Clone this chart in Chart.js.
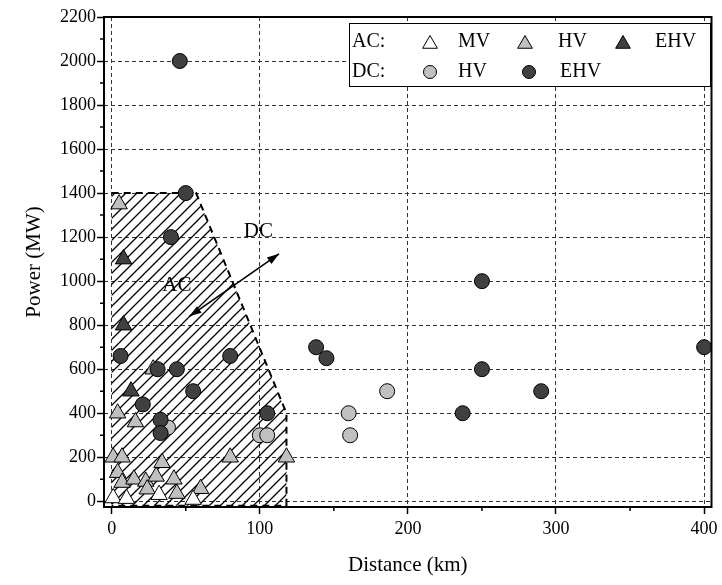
<!DOCTYPE html>
<html>
<head>
<meta charset="utf-8">
<script src="https://cdn.jsdelivr.net/npm/chart.js@4.4.1/dist/chart.umd.min.js"></script>
<style>
  html, body { margin: 0; padding: 0; background: #fff; }
  #wrap { width: 722px; height: 585px; }
</style>
</head>
<body>
<div id="wrap"><canvas id="chart"></canvas></div>
<script>
// distance (km) / power (MW)
const acMvDist = [1, 10, 32, 55];
const acMvPower = [15, 12, 30, 8];

const acHvDist = [5, 28, 4, 16, 1, 7, 34, 4, 7, 15, 23, 30, 42, 24, 44, 80, 118, 60];
const acHvPower = [1350, 600, 400, 360, 200, 200, 175, 130, 85, 100, 90, 113, 100, 55, 35, 200, 200, 57];

const acEhvDist = [8, 8, 13];
const acEhvPower = [1100, 800, 500];

const dcHvDist = [38, 100, 105, 186, 160, 161];
const dcHvPower = [335, 300, 300, 500, 400, 300];

const dcEhvDist = [46, 50, 40, 6, 31, 44, 55, 21, 33, 33, 80, 105, 138, 145, 250, 250, 290, 237, 400];
const dcEhvPower = [2000, 1400, 1200, 660, 600, 600, 500, 440, 370, 310, 660, 400, 700, 650, 1000, 600, 500, 400, 700];

// hatched AC region outline
const acZoneDist = [0, 57, 118, 118, 0, 0];
const acZonePower = [1400, 1400, 400, -20, -20, 1400];

// double arrow between the AC and DC labels
const arrowStart = [52.5, 840];
const arrowEnd = [113, 1124];
const zoneLabels = ['AC', 'DC'];
const zoneLabelDist = [44, 99];
const zoneLabelPower = [980, 1226];

const xTicks = [0, 100, 200, 300, 400];
const xMinor = [50, 150, 250, 350];
const yTicks = [0, 200, 400, 600, 800, 1000, 1200, 1400, 1600, 1800, 2000, 2200];
const yMinor = [100, 300, 500, 700, 900, 1100, 1300, 1500, 1700, 1900, 2100];

const LIGHT = '#c0c0c0';
const DARK = '#404040';
const SERIF = "'Liberation Serif', 'Times New Roman', serif";

const zip = (xs, ys) => xs.map((x, i) => ({ x, y: ys[i] }));

function hatchPattern() {
    const s = 11;
    const c = document.createElement('canvas');
    c.width = s;
    c.height = s;
    const g = c.getContext('2d');
    g.strokeStyle = '#000';
    g.lineWidth = 1.3;
    g.beginPath();
    g.moveTo(0, s);
    g.lineTo(s, 0);
    g.moveTo(-2, 2);
    g.lineTo(2, -2);
    g.moveTo(s - 2, s + 2);
    g.lineTo(s + 2, s - 2);
    g.stroke();
    return g.createPattern(c, 'repeat');
}

function triangle(ctx, x, y, r) {
    ctx.beginPath();
    ctx.moveTo(x, y - r);
    ctx.lineTo(x + 0.866 * r, y + 0.5 * r);
    ctx.lineTo(x - 0.866 * r, y + 0.5 * r);
    ctx.closePath();
}

function circle(ctx, x, y, r) {
    ctx.beginPath();
    ctx.arc(x, y, r, 0, Math.PI * 2);
}

function arrowHead(ctx, fx, fy, tx, ty) {
    const a = Math.atan2(ty - fy, tx - fx);
    const len = 12, half = 4;
    ctx.beginPath();
    ctx.moveTo(tx, ty);
    ctx.lineTo(tx - len * Math.cos(a) + half * Math.sin(a), ty - len * Math.sin(a) - half * Math.cos(a));
    ctx.lineTo(tx - len * Math.cos(a) - half * Math.sin(a), ty - len * Math.sin(a) + half * Math.cos(a));
    ctx.closePath();
    ctx.fill();
}

const decorations = {
    id: 'decorations',
    afterDraw(chart) {
        const { ctx, chartArea: area } = chart;
        const xs = chart.scales.x, ys = chart.scales.y;
        ctx.save();

        // frame
        ctx.strokeStyle = '#000';
        ctx.lineWidth = 2;
        ctx.strokeRect(area.left, area.top, area.right - area.left, area.bottom - area.top);

        // minor ticks
        ctx.lineWidth = 1.5;
        ctx.beginPath();
        for (const v of xMinor) {
            const px = xs.getPixelForValue(v);
            ctx.moveTo(px, area.bottom);
            ctx.lineTo(px, area.bottom + 4);
        }
        for (const v of yMinor) {
            const py = ys.getPixelForValue(v);
            ctx.moveTo(area.left, py);
            ctx.lineTo(area.left - 4, py);
        }
        ctx.stroke();

        // arrow
        const ax = xs.getPixelForValue(arrowStart[0]), ay = ys.getPixelForValue(arrowStart[1]);
        const bx = xs.getPixelForValue(arrowEnd[0]), by = ys.getPixelForValue(arrowEnd[1]);
        ctx.lineWidth = 1.6;
        ctx.fillStyle = '#000';
        ctx.beginPath();
        ctx.moveTo(ax, ay);
        ctx.lineTo(bx, by);
        ctx.stroke();
        arrowHead(ctx, ax, ay, bx, by);
        arrowHead(ctx, bx, by, ax, ay);

        // AC / DC labels
        ctx.font = '21px ' + SERIF;
        ctx.textAlign = 'center';
        ctx.textBaseline = 'middle';
        zoneLabels.forEach((t, i) => {
            ctx.fillText(t, xs.getPixelForValue(zoneLabelDist[i]), ys.getPixelForValue(zoneLabelPower[i]));
        });

        // legend
        ctx.fillStyle = '#fff';
        ctx.fillRect(349, 23, 361, 63);
        ctx.lineWidth = 1;
        ctx.strokeRect(349.5, 23.5, 361, 63);
        ctx.font = '20px ' + SERIF;
        ctx.textAlign = 'left';
        ctx.fillStyle = '#000';
        const r1 = 42, r2 = 72;
        ctx.fillText('AC:', 352, r1);
        ctx.fillText('MV', 458, r1);
        ctx.fillText('HV', 558, r1);
        ctx.fillText('EHV', 655, r1);
        ctx.fillText('DC:', 352, r2);
        ctx.fillText('HV', 458, r2);
        ctx.fillText('EHV', 560, r2);
        const marks = [
            [triangle, 430, r1 + 2, 8.5, '#fff'],
            [triangle, 525, r1 + 2, 8.5, LIGHT],
            [triangle, 623, r1 + 2, 8.5, DARK],
            [circle, 430, r2, 6.5, LIGHT],
            [circle, 529, r2, 6.5, DARK],
        ];
        ctx.lineWidth = 1;
        ctx.strokeStyle = '#000';
        for (const [shape, x, y, r, fill] of marks) {
            shape(ctx, x, y, r);
            ctx.fillStyle = fill;
            ctx.fill();
            ctx.stroke();
        }
        ctx.restore();
    },
};

const markerSet = (label, dist, power, style, fill, order) => ({
    label,
    data: zip(dist, power),
    pointStyle: style,
    pointRadius: style === 'triangle' ? 9.5 : 7.5,
    pointBackgroundColor: fill,
    pointBorderColor: '#000',
    pointBorderWidth: 1,
    showLine: false,
    order,
});

const axisFont = { family: SERIF, size: 18 };
const titleFont = { family: SERIF, size: 21 };

new Chart(document.getElementById('chart'), {
    type: 'scatter',
    data: {
        datasets: [
            {
                type: 'line',
                label: 'AC zone',
                data: zip(acZoneDist, acZonePower),
                showLine: true,
                pointRadius: 0,
                borderColor: '#000',
                borderWidth: 2,
                borderDash: [7, 5],
                backgroundColor: hatchPattern(),
                fill: 'shape',
                tension: 0,
                segment: {
                    borderColor: (c) => (c.p0DataIndex === 4 ? 'rgba(0,0,0,0)' : '#000'),
                },
                order: 10,
            },
            markerSet('AC MV', acMvDist, acMvPower, 'triangle', '#fff', 4),
            markerSet('AC HV', acHvDist, acHvPower, 'triangle', LIGHT, 5),
            markerSet('AC EHV', acEhvDist, acEhvPower, 'triangle', DARK, 3),
            markerSet('DC HV', dcHvDist, dcHvPower, 'circle', LIGHT, 2),
            markerSet('DC EHV', dcEhvDist, dcEhvPower, 'circle', DARK, 1),
        ],
    },
    options: {
        responsive: true,
        maintainAspectRatio: false,
        animation: false,
        events: [],
        layout: { padding: { left: 0, top: 17, right: 7, bottom: 0 } },
        plugins: {
            legend: { display: false },
            tooltip: { enabled: false },
        },
        scales: {
            x: {
                type: 'linear',
                min: -5.2,
                max: 405,
                afterBuildTicks: (s) => { s.ticks = xTicks.map((v) => ({ value: v })); },
                afterFit: (s) => { s.height = 78; },
                ticks: { color: '#000', font: axisFont, padding: 4, maxRotation: 0, callback: (v) => String(v) },
                grid: { color: '#333', lineWidth: 1, tickLength: 7, tickColor: '#000', tickWidth: 1.5 },
                border: { display: false, dash: [4, 3] },
                title: { display: true, text: 'Distance (km)', color: '#000', font: titleFont, padding: { top: 0, bottom: 7 } },
            },
            y: {
                type: 'linear',
                min: -26,
                max: 2200,
                afterBuildTicks: (s) => { s.ticks = yTicks.map((v) => ({ value: v })); },
                afterFit: (s) => { s.width = 104; },
                ticks: { color: '#000', font: axisFont, padding: 1, callback: (v) => String(v) },
                grid: { color: '#333', lineWidth: 1, tickLength: 7, tickColor: '#000', tickWidth: 1.5 },
                border: { display: false, dash: [4, 3] },
                title: { display: true, text: 'Power (MW)', color: '#000', font: titleFont, padding: { top: 22, bottom: 0 } },
            },
        },
    },
    plugins: [decorations],
});
</script>
</body>
</html>
